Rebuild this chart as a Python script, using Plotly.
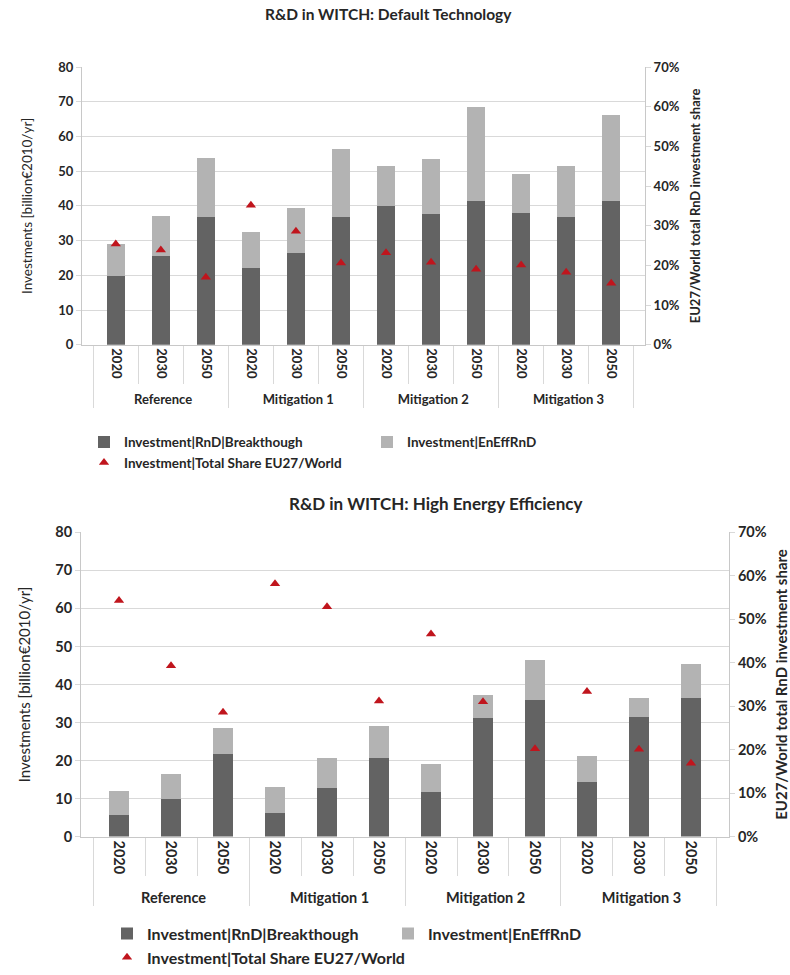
import plotly.graph_objects as go

# ---------------- data ----------------
scenarios = ["Reference", "Mitigation 1", "Mitigation 2", "Mitigation 3"]
years = ["2020", "2030", "2050"]

# Chart 1: Default Technology
dt_breakthrough = [19.7, 25.6, 36.8, 22.1, 26.4, 36.8, 39.9, 37.6, 41.3, 38.0, 36.7, 41.3]
dt_eneff = [9.3, 11.4, 17.1, 10.3, 13.0, 19.6, 11.6, 15.8, 27.3, 11.2, 14.7, 24.8]
dt_share = [0.254, 0.239, 0.170, 0.352, 0.286, 0.206, 0.232, 0.208, 0.190, 0.201, 0.183, 0.155]

# Chart 2: High Energy Efficiency
he_breakthrough = [5.7, 9.9, 21.8, 6.2, 12.9, 20.7, 11.8, 31.3, 35.9, 14.4, 31.5, 36.5]
he_eneff = [6.3, 6.6, 6.8, 6.9, 7.8, 8.3, 7.2, 6.0, 10.6, 6.7, 5.0, 8.8]
he_share = [0.543, 0.393, 0.286, 0.582, 0.529, 0.312, 0.466, 0.310, 0.202, 0.334, 0.201, 0.169]

names = ["Investment|RnD|Breakthough", "Investment|EnEffRnD", "Investment|Total Share EU27/World"]
titles = ["R&D in WITCH: Default Technology", "R&D in WITCH: High Energy Efficiency"]
left_title = "Investments [billion€2010/yr]"
right_title = "EU27/World total RnD investment share"

# ---------------- style ----------------
FONT = "Lato"
DARK = "#636363"
LIGHT = "#b3b3b3"
RED = "#c0151d"
GRID = "#d9d9d9"
AXIS = "#c8c8c8"
TXT = "#262626"
W, H = 790, 975

xcat = [[s for s in scenarios for _ in years], [y for _ in scenarios for y in years]]

fig = go.Figure()

def add_chart(bk, ee, sh, xa, ya, ya2, legend):
    fig.add_trace(go.Bar(x=xcat, y=bk, name=names[0], marker=dict(color=DARK, line=dict(width=0)),
                         xaxis=xa, yaxis=ya, legend=legend))
    fig.add_trace(go.Bar(x=xcat, y=ee, name=names[1], marker=dict(color=LIGHT, line=dict(width=0)),
                         xaxis=xa, yaxis=ya, legend=legend))
    fig.add_trace(go.Scatter(x=xcat, y=sh, name=names[2], mode="markers",
                             marker=dict(symbol="triangle-up", size=9, color=RED),
                             xaxis=xa, yaxis=ya2, legend=legend))

add_chart(dt_breakthrough, dt_eneff, dt_share, "x", "y", "y2", "legend")
add_chart(he_breakthrough, he_eneff, he_share, "x2", "y3", "y4", "legend2")

def px_x(a, b):
    return [a / W, b / W]

def px_y(top, bottom):
    return [1 - bottom / H, 1 - top / H]

def xaxis_cfg(dom, anchor, fs_in):
    return dict(type="multicategory", domain=dom, anchor=anchor, automargin=False,
                showline=True, linecolor=AXIS, linewidth=1,
                ticks="outside", tickson="boundaries", ticklen=38, tickcolor=GRID,
                showdividers=True, dividercolor=GRID, dividerwidth=1,
                tickangle=90, tickfont=dict(family=FONT, size=fs_in, color=TXT, weight="bold"),
                showgrid=False)

def yaxis_cfg(dom, anchor, fs, tfs, title, tstand):
    return dict(domain=dom, anchor=anchor, range=[0, 80], dtick=10, automargin=False,
                showgrid=True, gridcolor=GRID, gridwidth=1.3,
                showline=True, linecolor=AXIS, ticks="outside", ticklen=5, tickcolor=GRID,
                zeroline=False,
                tickfont=dict(family=FONT, size=fs, color=TXT, weight="bold"),
                title=dict(text=title, font=dict(family=FONT, size=tfs, color=TXT), standoff=tstand))

def yaxis2_cfg(over, anchor, fs, tfs, title, tstand):
    return dict(overlaying=over, anchor=anchor, side="right", range=[0, 0.7], dtick=0.1,
                tickformat=".0%", showgrid=False, zeroline=False, automargin=False,
                showline=True, linecolor=AXIS, ticks="outside", ticklen=5, tickcolor=GRID,
                tickfont=dict(family=FONT, size=fs, color=TXT, weight="bold"),
                title=dict(text=title, font=dict(family=FONT, size=tfs, color=TXT, weight="bold"),
                           standoff=tstand))

fig.update_layout(
    width=W, height=H, margin=dict(l=0, r=0, t=0, b=0),
    paper_bgcolor="white", plot_bgcolor="white",
    barmode="stack", bargap=0.61,
    xaxis=xaxis_cfg(px_x(82, 645), "y", 13),
    yaxis=yaxis_cfg(px_y(68, 349), "x", 13, 13.5, left_title, 22),
    yaxis2=yaxis2_cfg("y", "x", 13, 13, right_title, 12),
    xaxis2=xaxis_cfg(px_x(81, 729), "y3", 14.5),
    yaxis3=yaxis_cfg(px_y(539, 847), "x2", 14.5, 15, left_title, 21),
    yaxis4=yaxis2_cfg("y3", "x2", 14.5, 15, right_title, 12),
    legend=dict(orientation="h", x=84 / W, y=1 - 432 / H, xanchor="left", yanchor="top",
                entrywidth=238, entrywidthmode="pixels", bgcolor="rgba(0,0,0,0)",
                font=dict(family=FONT, size=13.5, color=TXT, weight="bold"), traceorder="normal"),
    legend2=dict(orientation="h", x=107 / W, y=1 - 928 / H, xanchor="left", yanchor="top",
                 entrywidth=236, entrywidthmode="pixels", bgcolor="rgba(0,0,0,0)",
                 font=dict(family=FONT, size=16, color=TXT, weight="bold"), traceorder="normal"),
    annotations=[
        dict(text=titles[0], x=388 / W, y=1 - 14 / H, xref="paper", yref="paper", showarrow=False,
             xanchor="center", yanchor="middle",
             font=dict(family=FONT, size=15.5, color=TXT, weight="bold")),
        dict(text=titles[1], x=435 / W, y=1 - 510 / H, xref="paper", yref="paper", showarrow=False,
             xanchor="center", yanchor="middle",
             font=dict(family=FONT, size=17, color=TXT, weight="bold")),
    ],
    showlegend=True,
)

fig.write_html("out.html")
